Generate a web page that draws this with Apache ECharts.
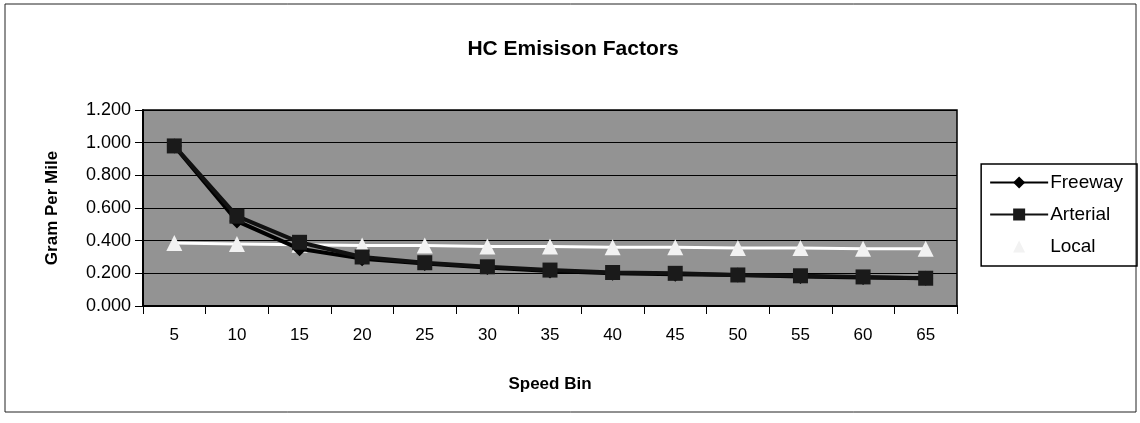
<!DOCTYPE html>
<html>
<head>
<meta charset="utf-8">
<script src="https://cdn.jsdelivr.net/npm/echarts@6/dist/echarts.min.js"></script>
<style>
html,body{margin:0;padding:0;background:#fff;}
#chart{width:1140px;height:423px;}
</style>
</head>
<body>
<div id="chart"></div>
<script>
const categories = ['5','10','15','20','25','30','35','40','45','50','55','60','65'];
const freeway  = [0.98,0.52,0.35,0.29,0.26,0.235,0.215,0.200,0.195,0.190,0.180,0.175,0.170];
const arterial = [0.98,0.55,0.39,0.30,0.265,0.240,0.220,0.205,0.200,0.190,0.185,0.178,0.170];
const local    = [0.385,0.380,0.375,0.370,0.370,0.365,0.365,0.360,0.360,0.355,0.355,0.350,0.350];
const yTicks = {min:0, max:1.2, interval:0.2};

const chart = echarts.init(document.getElementById('chart'), null, {renderer:'canvas'});
const font = 'Liberation Sans, Arial, sans-serif';
chart.setOption({
  backgroundColor:'#fff',
  animation:false,
  title:{
    text:'HC Emisison Factors', left:568, top:34, textAlign:'center',
    textStyle:{fontFamily:font, fontWeight:'bold', fontSize:21, color:'#000'}
  },
  graphic:[{
    type:'rect', shape:{x:5, y:4, width:1131, height:408},
    style:{fill:'none', stroke:'#222', lineWidth:1}, z:-1
  }],
  grid:{left:143, right:183, top:110, bottom:117, show:true, backgroundColor:'#939393', borderColor:'#000', borderWidth:1.5},
  legend:{
    orient:'vertical', right:3, top:164,
    borderColor:'#000', borderWidth:1.5, padding:[9,14,10,8], itemGap:13,
    itemWidth:58, itemHeight:15,
    textStyle:{fontFamily:font, fontSize:19, color:'#000', padding:[0,0,0,-3]},
    data:['Freeway','Arterial','Local']
  },
  xAxis:{
    type:'category', data:categories, boundaryGap:true,
    name:'Speed Bin', nameLocation:'middle', nameGap:70,
    nameTextStyle:{fontFamily:font, fontWeight:'bold', fontSize:17, color:'#000'},
    axisLine:{lineStyle:{color:'#000', width:2}},
    axisTick:{show:true, inside:false, length:8, lineStyle:{color:'#000'}},
    axisLabel:{fontFamily:font, fontSize:17, color:'#000', margin:21}
  },
  yAxis:{
    type:'value', min:yTicks.min, max:yTicks.max, interval:yTicks.interval,
    name:'Gram Per Mile', nameLocation:'middle', nameGap:82,
    nameTextStyle:{fontFamily:font, fontWeight:'bold', fontSize:17, color:'#000'},
    axisLine:{show:true, lineStyle:{color:'#000', width:2}},
    axisTick:{show:true, inside:false, length:8, lineStyle:{color:'#000'}},
    axisLabel:{fontFamily:font, fontSize:18, color:'#000', margin:12, formatter:v=>v.toFixed(3)},
    splitLine:{show:true, lineStyle:{color:'#000', width:1}}
  },
  series:[
    {name:'Freeway', type:'line', data:freeway, symbol:'diamond', symbolSize:15,
     lineStyle:{color:'#000', width:4}, itemStyle:{color:'#000'}, z:3},
    {name:'Arterial', type:'line', data:arterial, symbol:'rect', symbolSize:15,
     lineStyle:{color:'#111', width:4}, itemStyle:{color:'#1a1a1a'}, z:4},
    {name:'Local', type:'line', data:local, symbol:'triangle', symbolSize:16,
     lineStyle:{color:'#fff', width:3}, itemStyle:{color:'#f2f2f2'}, z:2}
  ]
});
</script>
</body>
</html>
